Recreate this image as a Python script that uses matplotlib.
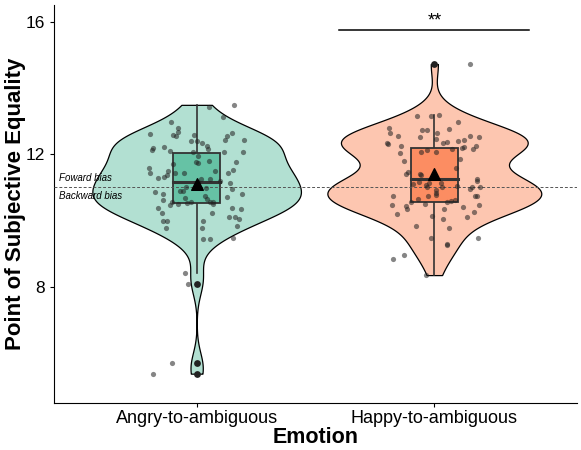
import numpy as np
import matplotlib
matplotlib.use("Agg")
import matplotlib.pyplot as plt

plt.rcParams['font.family'] = ['Liberation Sans', 'DejaVu Sans']

categories = ["Angry-to-ambiguous", "Happy-to-ambiguous"]

angry = [13.44, 13.49, 13.12, 12.97, 12.79, 12.64, 12.62,
         12.54, 12.44, 12.57, 12.67, 12.54, 12.57,
         12.40, 12.39, 12.33, 12.44,
         12.08, 12.15, 12.08, 12.11, 12.23, 12.25, 12.19, 12.14, 11.96, 12.08,
         11.76, 11.80, 11.75, 11.76, 11.71,
         11.43, 11.38, 11.50, 11.51, 11.45, 11.60, 11.45, 11.33, 11.43, 11.53,
         11.18, 11.15, 11.26, 11.21, 11.28, 11.25, 11.13,
         10.95, 10.90, 10.97, 10.87, 11.00, 10.88,
         10.80, 10.72, 10.67, 10.80, 10.74, 10.65, 10.57, 10.57, 10.62, 10.55, 10.57, 10.54,
         10.37, 10.34, 10.47, 10.49, 10.49, 10.37, 10.22,
         10.22, 10.12, 10.05, 10.10, 10.00,
         10.00, 10.00, 9.85, 9.77, 9.77,
         9.47, 9.44, 9.44,
         8.43, 8.08, 5.71, 5.39]

happy = [14.72,
         13.16, 13.19, 13.16,
         12.97, 12.79, 12.74, 12.64, 12.54, 12.51, 12.77, 12.72, 12.64, 12.54, 12.51,
         12.33, 12.16, 12.06, 12.06, 11.86, 12.16, 12.26, 12.26, 12.33, 12.41, 12.44,
         12.03, 12.12, 12.22, 12.30, 12.38, 12.19, 12.47,
         11.58, 11.48, 11.41, 11.38, 11.81,
         11.41, 11.26, 11.13, 11.18, 11.10, 11.21, 11.15,
         11.00, 10.93, 10.82, 11.00, 11.05, 11.02, 11.00, 10.95, 11.08,
         10.75, 10.75, 10.75, 10.78, 10.75, 10.57, 10.42, 10.60, 10.62, 10.55, 10.46, 10.65,
         10.49, 10.44, 10.46, 10.35, 10.25, 10.10, 10.20,
         10.35, 10.14, 10.05, 9.77, 9.85,
         9.47, 9.47, 9.31, 9.26,
         8.96, 8.86, 8.36]

# box statistics
q1 = [10.53, 10.56]
medians = [11.17, 11.26]
q3 = [12.04, 12.19]
whisk_lo = [8.42, 8.36]
whisk_hi = [13.49, 13.19]
means = [11.1, 11.4]
outliers = [[8.08, 5.71, 5.39], [14.72]]

violin_fill = ["#b2e0d2", "#fdc6b0"]
box_fill = ["#66c2a5", "#fc8d62"]

bias_line = 11.0
sig_label = "**"


def kde(data, grid):
    data = np.asarray(data)
    n = len(data)
    iqr = np.subtract(*np.percentile(data, [75, 25]))
    bw = 0.9 * min(data.std(ddof=1), iqr / 1.34) * n ** -0.2
    z = (grid[:, None] - data[None, :]) / bw
    return np.exp(-0.5 * z ** 2).sum(axis=1) / (n * bw * np.sqrt(2 * np.pi))


fig = plt.figure(figsize=(5.81, 4.5), dpi=100)
ax = fig.add_axes([0.093, 0.104, 0.9, 0.885])

groups = [angry, happy]
grids, dens = [], []
for g in groups:
    y = np.linspace(min(g), max(g), 400)
    grids.append(y)
    dens.append(kde(g, y))
dmax = max(d.max() for d in dens)

rng = np.random.default_rng(7)
for i, g in enumerate(groups):
    pos = i + 1
    w = 0.45 * dens[i] / dmax
    ax.fill_betweenx(grids[i], pos - w, pos + w, facecolor=violin_fill[i],
                     edgecolor="black", linewidth=0.9, zorder=1)
    # whiskers
    ax.plot([pos, pos], [whisk_lo[i], q1[i]], color="#333333", lw=1.2, zorder=2)
    ax.plot([pos, pos], [q3[i], whisk_hi[i]], color="#333333", lw=1.2, zorder=2)
    ax.add_patch(plt.Rectangle((pos - 0.1, q1[i]), 0.2, q3[i] - q1[i],
                               facecolor=box_fill[i], edgecolor="#333333",
                               lw=1.3, zorder=2))
    ax.plot([pos - 0.1, pos + 0.1], [medians[i], medians[i]], color="#333333",
            lw=2.2, zorder=3)
    ax.scatter([pos] * len(outliers[i]), outliers[i], s=24, color="#222222",
               zorder=4, linewidths=0)
    jx = pos + rng.uniform(-0.2, 0.2, len(g))
    ax.scatter(jx, g, s=14, color="#222222", alpha=0.55, linewidths=0, zorder=4)
    ax.scatter([pos], [means[i]], marker="^", s=70, color="black", zorder=5)

ax.axhline(bias_line, color="#555555", lw=0.7, ls=(0, (3, 2)), zorder=3)
ax.text(0.42, bias_line + 0.12, "Foward bias", fontsize=7, style="italic",
        va="bottom", ha="left", zorder=6)
ax.text(0.42, bias_line - 0.12, "Backward bias", fontsize=7, style="italic",
        va="top", ha="left", zorder=6)

ax.plot([1.6, 2.4], [15.76, 15.76], color="black", lw=1.1)
ax.text(2.0, 15.76, sig_label, ha="center", va="bottom", fontsize=13)

ax.set_xlim(0.4, 2.6)
ax.set_ylim(4.5, 16.5)
ax.set_xticks([1, 2])
ax.set_xticklabels(categories, fontsize=13)
ax.set_yticks([8, 12, 16])
ax.tick_params(axis="y", labelsize=12.5)
ax.tick_params(axis="x", pad=2)
ax.tick_params(length=3, width=0.8)
ax.spines["top"].set_visible(False)
ax.spines["right"].set_visible(False)
ax.set_xlabel("Emotion", fontsize=15.5, fontweight="bold", labelpad=0)
ax.set_ylabel("Point of Subjective Equality", fontsize=16, fontweight="bold", labelpad=0)

fig.savefig("out.png", dpi=100)
